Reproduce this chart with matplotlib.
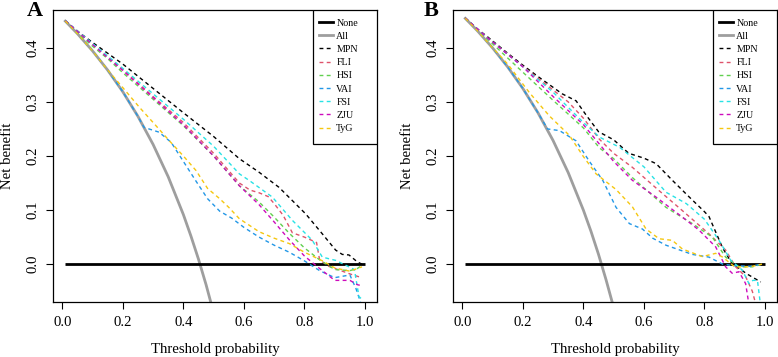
###########################################
##Decision curves for the two cohorts A/B##
###########################################
import numpy as np
import matplotlib
matplotlib.use("Agg")
from matplotlib import pyplot as plt
import matplotlib.patches as mpatches

plt.rcParams['font.family'] = ['Liberation Serif', 'DejaVu Serif']

##########
##Values##
##########
labels = ["None", "All", "MPN", "FLI", "HSI", "VAI", "FSI", "ZJU", "TyG"]
x_ticks = [0.0, 0.2, 0.4, 0.6, 0.8, 1.0]
y_ticks = [0.0, 0.1, 0.2, 0.3, 0.4]
none_x = [0.01, 1.0]
none_y = [0.0, 0.0]

#Panel A
a_all_x = [0.01, 0.05, 0.1, 0.15, 0.2, 0.25, 0.3, 0.35, 0.4, 0.425, 0.45, 0.475, 0.5]
a_all_y = [0.4495, 0.4263, 0.3944, 0.3588, 0.3188, 0.2733, 0.2214, 0.1615, 0.0917, 0.052, 0.0091, -0.038, -0.09]
a_mpn_x = [0.01, 0.057, 0.1, 0.15, 0.2, 0.3, 0.4, 0.5, 0.585, 0.65, 0.716, 0.804, 0.859, 0.903, 0.925, 0.947, 0.975, 0.99]
a_mpn_y = [0.45, 0.428, 0.41, 0.39, 0.37, 0.325, 0.28, 0.236, 0.195, 0.17, 0.142, 0.093, 0.056, 0.026, 0.018, 0.017, 0.004, 0.0]
a_fli_x = [0.01, 0.057, 0.1, 0.2, 0.3, 0.4, 0.5, 0.585, 0.62, 0.65, 0.68, 0.7, 0.73, 0.76, 0.8, 0.84, 0.85, 0.88, 0.92, 0.96, 0.99]
a_fli_y = [0.45, 0.427, 0.407, 0.36, 0.31, 0.262, 0.205, 0.15, 0.137, 0.132, 0.125, 0.112, 0.09, 0.058, 0.05, 0.04, 0.008, -0.004, -0.012, -0.02, -0.025]
a_hsi_x = [0.01, 0.057, 0.1, 0.15, 0.2, 0.3, 0.4, 0.5, 0.585, 0.65, 0.7, 0.75, 0.8, 0.85, 0.9, 0.95, 0.975, 0.99]
a_hsi_y = [0.45, 0.425, 0.403, 0.38, 0.354, 0.305, 0.256, 0.2, 0.145, 0.115, 0.087, 0.057, 0.03, 0.008, -0.01, -0.012, -0.008, -0.002]
a_vai_x = [0.01, 0.05, 0.1, 0.15, 0.2, 0.25, 0.27, 0.32, 0.36, 0.4, 0.44, 0.48, 0.52, 0.56, 0.6, 0.65, 0.7, 0.75, 0.8, 0.85, 0.9, 0.95, 0.97, 0.985]
a_vai_y = [0.4495, 0.4263, 0.3944, 0.3588, 0.3188, 0.2733, 0.253, 0.244, 0.225, 0.19, 0.155, 0.121, 0.098, 0.085, 0.068, 0.05, 0.035, 0.022, 0.006, -0.012, -0.025, -0.02, -0.045, -0.07]
a_fsi_x = [0.01, 0.057, 0.1, 0.2, 0.3, 0.4, 0.5, 0.585, 0.617, 0.694, 0.76, 0.826, 0.859, 0.903, 0.947, 0.965, 0.98, 0.99]
a_fsi_y = [0.45, 0.428, 0.408, 0.362, 0.315, 0.268, 0.218, 0.167, 0.155, 0.124, 0.081, 0.044, 0.013, 0.007, -0.005, -0.01, -0.06, -0.065]
a_zju_x = [0.01, 0.057, 0.1, 0.2, 0.3, 0.4, 0.5, 0.585, 0.65, 0.7, 0.75, 0.8, 0.85, 0.9, 0.95, 0.975, 0.99]
a_zju_y = [0.45, 0.427, 0.406, 0.358, 0.308, 0.258, 0.2, 0.145, 0.11, 0.078, 0.045, 0.015, -0.008, -0.03, -0.03, -0.038, -0.04]
a_tyg_x = [0.01, 0.05, 0.1, 0.15, 0.19, 0.255, 0.3, 0.354, 0.4, 0.442, 0.48, 0.52, 0.55, 0.585, 0.65, 0.7, 0.75, 0.8, 0.86, 0.9, 0.95, 0.975, 0.99]
a_tyg_y = [0.4495, 0.4263, 0.3944, 0.3588, 0.333, 0.29, 0.262, 0.228, 0.2, 0.173, 0.14, 0.121, 0.105, 0.084, 0.06, 0.048, 0.038, 0.022, 0.006, -0.007, -0.013, -0.008, -0.005]

#Panel B
b_all_x = [0.01, 0.05, 0.1, 0.15, 0.2, 0.25, 0.3, 0.35, 0.4, 0.425, 0.45, 0.475, 0.5]
b_all_y = [0.4545, 0.4316, 0.40, 0.3647, 0.325, 0.28, 0.2286, 0.1692, 0.10, 0.061, 0.0182, -0.029, -0.08]
b_mpn_x = [0.01, 0.05, 0.08, 0.15, 0.2, 0.25, 0.3, 0.33, 0.376, 0.41, 0.45, 0.5, 0.55, 0.6, 0.64, 0.694, 0.75, 0.8, 0.815, 0.86, 0.89, 0.94, 0.986]
b_mpn_y = [0.455, 0.435, 0.422, 0.39, 0.368, 0.347, 0.327, 0.315, 0.302, 0.275, 0.245, 0.23, 0.205, 0.196, 0.186, 0.155, 0.124, 0.097, 0.088, 0.03, 0.002, -0.018, -0.033]
b_fli_x = [0.01, 0.08, 0.2, 0.3, 0.35, 0.4, 0.453, 0.5, 0.562, 0.65, 0.727, 0.815, 0.87, 0.903, 0.936, 0.958, 0.97]
b_fli_y = [0.455, 0.42, 0.366, 0.322, 0.3, 0.27, 0.231, 0.205, 0.179, 0.136, 0.099, 0.056, 0.026, -0.005, -0.023, -0.05, -0.075]
b_hsi_x = [0.01, 0.08, 0.2, 0.3, 0.4, 0.453, 0.5, 0.562, 0.673, 0.76, 0.826, 0.87, 0.914, 0.958, 0.99]
b_hsi_y = [0.455, 0.418, 0.355, 0.303, 0.252, 0.215, 0.195, 0.16, 0.105, 0.075, 0.05, 0.013, -0.005, -0.005, 0.0]
b_vai_x = [0.01, 0.05, 0.1, 0.15, 0.2, 0.25, 0.282, 0.321, 0.376, 0.42, 0.464, 0.508, 0.552, 0.595, 0.629, 0.673, 0.76, 0.815, 0.86, 0.9, 0.95, 0.99]
b_vai_y = [0.4545, 0.4316, 0.40, 0.3647, 0.325, 0.28, 0.25, 0.247, 0.228, 0.19, 0.155, 0.105, 0.075, 0.065, 0.048, 0.035, 0.018, 0.013, 0.0, -0.003, -0.004, 0.0]
b_fsi_x = [0.01, 0.08, 0.2, 0.3, 0.4, 0.453, 0.52, 0.6, 0.673, 0.74, 0.8, 0.848, 0.887, 0.925, 0.947, 0.96, 0.975, 0.985]
b_fsi_y = [0.455, 0.42, 0.365, 0.318, 0.262, 0.235, 0.216, 0.18, 0.133, 0.112, 0.083, 0.044, 0.007, -0.011, -0.036, -0.03, -0.03, -0.075]
b_zju_x = [0.01, 0.08, 0.2, 0.3, 0.4, 0.453, 0.5, 0.562, 0.64, 0.727, 0.782, 0.837, 0.87, 0.892, 0.914, 0.936, 0.947]
b_zju_y = [0.455, 0.42, 0.365, 0.31, 0.258, 0.222, 0.19, 0.155, 0.124, 0.087, 0.063, 0.032, -0.005, -0.017, -0.014, -0.036, -0.075]
b_tyg_x = [0.01, 0.05, 0.1, 0.15, 0.222, 0.288, 0.354, 0.4, 0.442, 0.508, 0.562, 0.607, 0.65, 0.694, 0.727, 0.793, 0.837, 0.86, 0.9, 0.95, 0.99]
b_tyg_y = [0.4545, 0.4316, 0.40, 0.37, 0.317, 0.274, 0.238, 0.199, 0.167, 0.138, 0.106, 0.065, 0.047, 0.044, 0.028, 0.014, 0.02, 0.013, -0.005, -0.005, 0.0]

#R 4.x default palette
model_colors = ['black', '#DF536B', '#61D04F', '#2297E6', '#28E2E5', '#CD0BBC', '#F5C710']
all_color = '#9E9E9E'

panel_a = [(a_mpn_x, a_mpn_y), (a_fli_x, a_fli_y), (a_hsi_x, a_hsi_y), (a_vai_x, a_vai_y),
           (a_fsi_x, a_fsi_y), (a_zju_x, a_zju_y), (a_tyg_x, a_tyg_y)]
panel_b = [(b_mpn_x, b_mpn_y), (b_fli_x, b_fli_y), (b_hsi_x, b_hsi_y), (b_vai_x, b_vai_y),
           (b_fsi_x, b_fsi_y), (b_zju_x, b_zju_y), (b_tyg_x, b_tyg_y)]

############
##Plotting##
############
fig = plt.figure(figsize=(7.78, 3.57), dpi=100)
W, H = 778.0, 357.0
AW, AH = 323.7, 292.0
ax_a = fig.add_axes([53.3/W, 55/H, AW/W, AH/H])
ax_b = fig.add_axes([453.3/W, 55/H, AW/W, AH/H])

def draw_panel(ax, all_x, all_y, models, letter, letter_x):
    ax.plot(none_x, none_y, color='black', lw=2, solid_capstyle='butt', zorder=3)
    ax.plot(all_x, all_y, color=all_color, lw=2, zorder=2)
    for (mx, my), c in zip(models, model_colors):
        ax.plot(mx, my, color=c, lw=1, dashes=(2.8, 2.4), zorder=4)

    ax.set_xlim(-0.0296, 1.0396)
    ax.set_ylim(-0.07, 0.47)
    ax.set_xticks(x_ticks)
    ax.set_xticklabels(["%.1f" % t for t in x_ticks])
    ax.set_yticks(y_ticks)
    ax.set_yticklabels(["%.1f" % t for t in y_ticks], rotation=90, va='center')
    ax.tick_params(direction='out', length=5, width=0.8, labelsize=10.6, pad=5)
    for s in ax.spines.values():
        s.set_linewidth(0.9)
    ax.set_xlabel('Threshold probability', fontsize=10.6, labelpad=10)
    ax.set_ylabel('Net benefit', fontsize=10.6, labelpad=9)

    #legend box like R's legend("topright")
    box = mpatches.Rectangle((1 - 64/AW, 1 - 134/AH), 64/AW, 134/AH,
                             transform=ax.transAxes, facecolor='white', edgecolor='black',
                             lw=0.9, zorder=6)
    ax.add_patch(box)
    handles = [plt.Line2D([0], [0], color='black', lw=2),
               plt.Line2D([0], [0], color=all_color, lw=2)]
    handles += [plt.Line2D([0], [0], color=c, lw=1, dashes=(2.8, 2.4)) for c in model_colors]
    leg = ax.legend(handles, labels, loc='upper left', bbox_to_anchor=(0.8156, 1 - 6.5/AH),
                    frameon=False, fontsize=7.2, handlelength=1.4, handletextpad=0.3,
                    labelspacing=0.42, borderpad=0.2, borderaxespad=0)
    leg.set_zorder(7)

    #panel letter in the top-left corner of the figure half
    fig.text(letter_x/W, 1 - 0.5/H, letter, fontsize=16, fontweight='bold',
             ha='center', va='top')

draw_panel(ax_a, a_all_x, a_all_y, panel_a, 'A', 35)
draw_panel(ax_b, b_all_x, b_all_y, panel_b, 'B', 431)

plt.savefig('out.png', dpi=100)
